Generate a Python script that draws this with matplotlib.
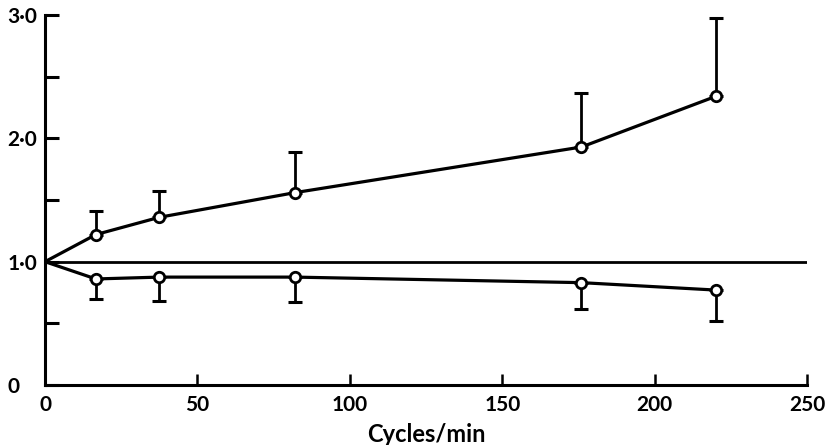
import matplotlib.pyplot as plt
from matplotlib.ticker import FixedLocator

# Data
cycles = [0, 16.7, 37.5, 82, 176, 220]
upper = [1.0, 1.22, 1.36, 1.56, 1.93, 2.34]
upper_err = [0, 0.19, 0.21, 0.33, 0.44, 0.64]
lower = [1.0, 0.86, 0.875, 0.875, 0.83, 0.77]
lower_err = [0, 0.16, 0.19, 0.20, 0.21, 0.25]

yticks = [0, 1.0, 2.0, 3.0]
ytick_labels = ["0", "1·0", "2·0", "3·0"]
xticks = [0, 50, 100, 150, 200, 250]

plt.rcParams['font.family'] = ['Lato', 'DejaVu Sans']

fig = plt.figure(figsize=(8.29, 4.45), dpi=100)
ax = fig.add_axes([0.0543, 0.1348, 0.9192, 0.8314])

ax.axhline(1.0, color='black', lw=2.0, zorder=1)

zeros = [0] * len(cycles)
err_style = dict(fmt='none', ecolor='black', elinewidth=2.0, capsize=5,
                 capthick=2.2, zorder=2)
ax.errorbar(cycles[1:], upper[1:], yerr=[zeros[1:], upper_err[1:]], **err_style)
ax.errorbar(cycles[1:], lower[1:], yerr=[lower_err[1:], zeros[1:]], **err_style)

line_style = dict(color='black', lw=2.3, marker='o', ms=7.5, mfc='white',
                  mec='black', mew=2.0, markevery=slice(1, None), zorder=3)
ax.plot(cycles, upper, **line_style)
ax.plot(cycles, lower, **line_style)

ax.set_xlim(0, 250)
ax.set_ylim(0, 3.0)
ax.set_xticks(xticks)
ax.set_yticks(yticks)
ax.set_yticklabels(ytick_labels)
ax.yaxis.set_minor_locator(FixedLocator([0.5, 1.5, 2.5]))

for s in ['top', 'right']:
    ax.spines[s].set_visible(False)
for s in ['left', 'bottom']:
    ax.spines[s].set_linewidth(2.2)

# y labels sit left-aligned in the margin, like the printed figure
ax.tick_params(axis='y', which='both', direction='in', length=10, width=2.2,
               pad=27, labelsize=15)
ax.tick_params(axis='x', direction='in', length=8, width=1.8, pad=7,
               labelsize=15)
for lab in ax.get_yticklabels():
    lab.set_horizontalalignment('left')
for lab in ax.get_xticklabels() + ax.get_yticklabels():
    lab.set_fontweight('bold')

ax.set_xlabel("Cycles/min", fontsize=17, fontweight='bold', labelpad=6)

fig.savefig("out.png", dpi=100)
